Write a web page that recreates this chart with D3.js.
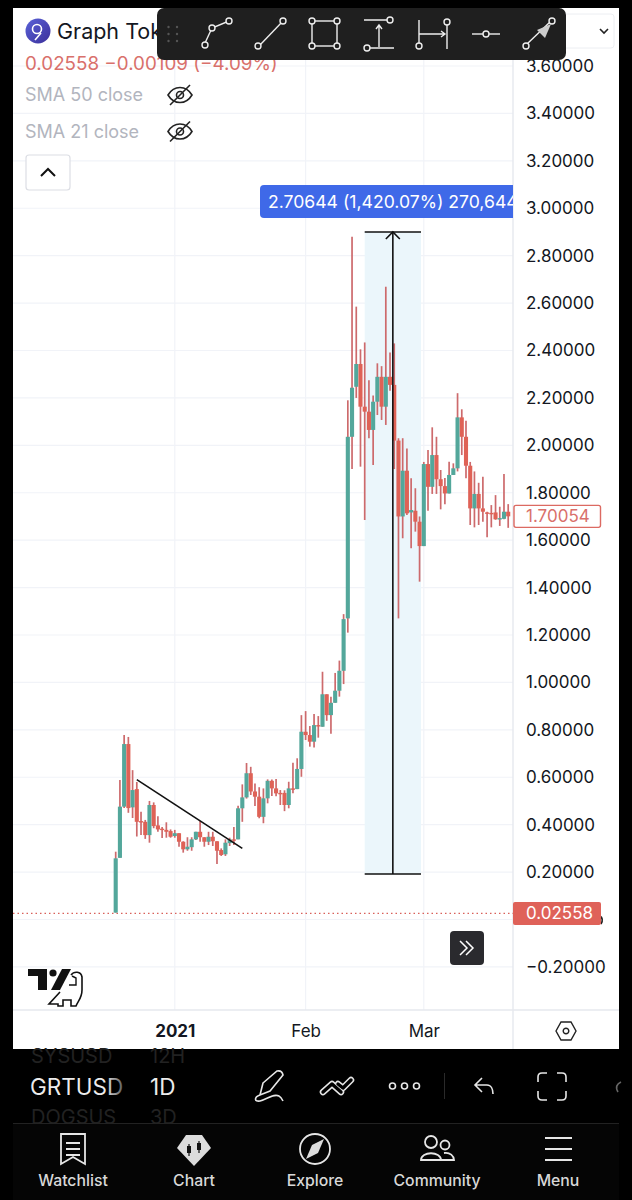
<!DOCTYPE html>
<html>
<head>
<meta charset="utf-8">
<script src="https://cdn.jsdelivr.net/npm/d3@7"></script>
<style>
  html, body { margin: 0; padding: 0; background: #000; }
  svg { display: block; }
  text { font-family: Inter, Roboto, "Liberation Sans", sans-serif; }
</style>
</head>
<body>
<svg id="chart" width="632" height="1200"></svg>
<script>
// GRTUSD daily candles, first one is 18 Dec 2020
const opens = [0.029,0.26,0.476,0.74,0.473,0.55,0.415,0.412,0.356,0.483,0.397,0.383,0.378,0.373,0.352,0.364,0.328,0.296,0.305,0.338,0.37,0.347,0.328,0.349,0.33,0.293,0.275,0.322,0.338,0.338,0.469,0.515,0.617,0.54,0.518,0.433,0.511,0.585,0.553,0.534,0.534,0.483,0.553,0.55,0.635,0.792,0.778,0.75,0.82,0.813,0.95,0.862,0.914,0.965,1.049,1.27,2.036,2.247,2.343,2.163,2.142,2.065,2.184,2.289,2.163,2.289,2.255,2.02,1.70,1.893,1.717,1.724,1.678,1.575,1.921,1.825,1.959,1.857,1.828,1.797,1.875,1.903,2.118,2.036,1.914,1.734,1.795,1.734,1.717,1.715,1.717,1.69,1.69,1.72];
const highs = [0.286,0.588,0.778,0.77,0.63,0.58,0.455,0.42,0.50,0.494,0.436,0.39,0.41,0.38,0.378,0.364,0.33,0.347,0.347,0.37,0.415,0.347,0.37,0.37,0.33,0.30,0.338,0.345,0.39,0.48,0.57,0.66,0.644,0.574,0.558,0.553,0.591,0.591,0.593,0.546,0.545,0.581,0.661,0.68,0.862,0.879,0.816,0.867,0.858,1.045,0.95,0.94,1.04,1.092,1.288,2.19,2.88,2.585,2.405,2.434,2.275,2.21,2.346,2.334,2.669,2.392,2.43,2.03,2.03,1.987,1.861,1.819,1.70,1.93,1.98,2.076,2.036,1.896,1.862,1.931,1.924,2.22,2.152,2.104,1.93,1.89,1.842,1.868,1.72,1.748,1.79,1.741,1.879,1.752];
const lows = [0.029,0.26,0.47,0.45,0.428,0.35,0.356,0.34,0.324,0.385,0.37,0.344,0.345,0.345,0.345,0.307,0.282,0.29,0.29,0.335,0.328,0.307,0.314,0.31,0.234,0.268,0.268,0.31,0.314,0.338,0.412,0.51,0.525,0.479,0.427,0.406,0.49,0.521,0.52,0.483,0.457,0.469,0.532,0.55,0.602,0.757,0.729,0.726,0.767,0.813,0.838,0.783,0.914,0.94,0.993,1.21,1.90,2.2,1.91,1.685,2.03,1.917,2.128,2.107,2.086,2.23,1.9,1.27,1.608,1.706,1.566,1.636,1.425,1.575,1.724,1.795,1.795,1.73,1.752,1.797,1.875,1.89,1.959,1.861,1.664,1.654,1.664,1.678,1.612,1.654,1.686,1.66,1.688,1.652];
const closes = [0.258,0.476,0.74,0.47,0.546,0.412,0.41,0.356,0.483,0.394,0.38,0.378,0.37,0.349,0.364,0.328,0.296,0.307,0.338,0.37,0.347,0.328,0.349,0.33,0.29,0.272,0.324,0.338,0.336,0.469,0.515,0.617,0.54,0.518,0.433,0.511,0.585,0.553,0.532,0.53,0.483,0.553,0.55,0.635,0.792,0.778,0.75,0.82,0.816,0.95,0.862,0.914,0.965,1.049,1.267,2.036,2.243,2.343,2.163,2.142,2.065,2.184,2.289,2.163,2.289,2.255,2.02,1.70,1.893,1.713,1.727,1.678,1.575,1.921,1.825,1.959,1.857,1.828,1.797,1.875,1.903,2.118,2.036,1.914,1.734,1.795,1.734,1.72,1.715,1.712,1.688,1.693,1.72,1.70054];

const priceTicks = [-0.2,0,0.2,0.4,0.6,0.8,1,1.2,1.4,1.6,1.8,2,2.2,2.4,2.6,2.8,3,3.2,3.4,3.6];
const timeTicks = [new Date(2021,0,1), new Date(2021,1,1), new Date(2021,2,1)];
const timeLabels = ["2021", "Feb", "Mar"];
const sideLabels = ["SMA 50 close", "SMA 21 close"];
const navLabels = ["Watchlist", "Chart", "Explore", "Community", "Menu"];

const lastPrice = 0.02558;
const lastClose = 1.70054;
const firstDay = new Date(2020,11,18);
const lastDay = new Date(2021,2,21);
// hand drawn tools on the chart
const trendFrom = [new Date(2020,11,23), 0.59];
const trendTo = [new Date(2021,0,17), 0.30];
const rangeFrom = [new Date(2021,1,15), 0.192];
const rangeTo = [new Date(2021,1,28,8), 2.9];

const upColor = "#53a79b";
const downColor = "#df6257";
const wickColor = "#cd6a6c";
const grid = "#f1f3f8";

const svg = d3.select("#chart");

const plot = { left: 13, right: 513, top: 8, bottom: 1010 };

const x = d3.scaleTime().domain([firstDay, lastDay]).range([115.7, 508.2]);
const y = d3.scaleLinear().domain([0, 3.6]).range([919.5, 66]);

const defs = svg.append("defs");
defs.append("filter").attr("id", "soft").append("feGaussianBlur").attr("stdDeviation", 0.35);
const fade = defs.append("linearGradient").attr("id", "fadeRight").attr("gradientUnits", "userSpaceOnUse")
  .attr("x1", 30).attr("x2", 126).attr("y1", 0).attr("y2", 0);
fade.append("stop").attr("offset", 0.78).attr("stop-color", "#ececec");
fade.append("stop").attr("offset", 1).attr("stop-color", "#444");
const coin = defs.append("linearGradient").attr("id", "coin").attr("x1", 0).attr("x2", 1).attr("y1", 0).attr("y2", 1);
coin.append("stop").attr("offset", 0).attr("stop-color", "#5a62d8");
coin.append("stop").attr("offset", 1).attr("stop-color", "#3b2f9a");
defs.append("clipPath").attr("id", "plotClip")
  .append("rect").attr("x", plot.left).attr("y", plot.top).attr("width", plot.right - plot.left).attr("height", plot.bottom - plot.top);

// panel
svg.append("rect").attr("width", 632).attr("height", 1200).attr("fill", "#000");
svg.append("rect").attr("x", 13).attr("y", 8).attr("width", 606).attr("height", 1041).attr("fill", "#fff");

// grid
const gridG = svg.append("g");
gridG.selectAll(".h").data(priceTicks).join("line")
  .attr("x1", plot.left).attr("x2", plot.right)
  .attr("y1", d => y(d)).attr("y2", d => y(d))
  .attr("stroke", grid).attr("stroke-width", 1.2);
gridG.selectAll(".v").data(timeTicks).join("line")
  .attr("x1", d => x(d)).attr("x2", d => x(d))
  .attr("y1", plot.top).attr("y2", plot.bottom)
  .attr("stroke", grid).attr("stroke-width", 1.2);

// borders of the axes
svg.append("line").attr("x1", 513).attr("x2", 513).attr("y1", 8).attr("y2", 1049).attr("stroke", "#e6e8ee").attr("stroke-width", 1.4);
svg.append("line").attr("x1", 13).attr("x2", 619).attr("y1", 1010).attr("y2", 1010).attr("stroke", "#e6e8ee").attr("stroke-width", 1.4);

// measure range background
svg.append("rect")
  .attr("x", x(rangeFrom[0])).attr("y", y(rangeTo[1]))
  .attr("width", x(rangeTo[0]) - x(rangeFrom[0]))
  .attr("height", y(rangeFrom[1]) - y(rangeTo[1]))
  .attr("fill", "#ebf6fb");

// last price dotted line
svg.append("line")
  .attr("x1", plot.left).attr("x2", plot.right)
  .attr("y1", y(lastPrice)).attr("y2", y(lastPrice))
  .attr("stroke", "#d9605a").attr("stroke-width", 1.3).attr("stroke-dasharray", "1.5 3");

// candles, all wicks are the same reddish colour here
const days = opens.map((d, i) => d3.timeDay.offset(firstDay, i));
const candles = svg.append("g").attr("filter", "url(#soft)");
candles.selectAll("line").data(days).join("line")
  .attr("x1", d => x(d)).attr("x2", d => x(d))
  .attr("y1", (d, i) => y(highs[i])).attr("y2", (d, i) => y(lows[i]))
  .attr("stroke", wickColor)
  .attr("stroke-width", 1.7);
candles.selectAll("rect").data(days).join("rect")
  .attr("x", d => x(d) - 2.05).attr("width", 4.1)
  .attr("y", (d, i) => y(Math.max(opens[i], closes[i])))
  .attr("height", (d, i) => Math.max(1.4, Math.abs(y(opens[i]) - y(closes[i]))))
  .attr("fill", (d, i) => closes[i] >= opens[i] ? upColor : downColor);

// trend line
svg.append("line")
  .attr("x1", x(trendFrom[0])).attr("y1", y(trendFrom[1]))
  .attr("x2", x(trendTo[0])).attr("y2", y(trendTo[1]))
  .attr("stroke", "#111").attr("stroke-width", 1.6);

// measure tool
const rx0 = x(rangeFrom[0]), rx1 = x(rangeTo[0]), ryLow = y(rangeFrom[1]), ryTop = y(rangeTo[1]);
const rxMid = (rx0 + rx1) / 2;
const measure = svg.append("g").attr("stroke", "#111").attr("stroke-width", 1.6).attr("fill", "none");
measure.append("line").attr("x1", rx0).attr("x2", rx1).attr("y1", ryTop).attr("y2", ryTop);
measure.append("line").attr("x1", rx0).attr("x2", rx1).attr("y1", ryLow).attr("y2", ryLow);
measure.append("line").attr("x1", rxMid).attr("x2", rxMid).attr("y1", ryTop).attr("y2", ryLow);
measure.append("path").attr("d", `M${rxMid - 7},${ryTop + 7}L${rxMid},${ryTop}L${rxMid + 7},${ryTop + 7}`);

// measure label, cut off by the price scale
const tag = svg.append("g").attr("clip-path", "url(#plotClip)");
tag.append("rect").attr("x", 260).attr("y", 185).attr("width", 270).attr("height", 33).attr("rx", 4).attr("fill", "#3f69e8");
tag.append("text").attr("x", 268).attr("y", 208).attr("fill", "#fff").attr("font-size", 17.6).text("2.70644 (1,420.07%) 270,644");

// price axis, the 0 label is hidden by the last price tag
const yAxis = d3.axisRight(y).tickValues(priceTicks.filter(d => d !== 0)).tickFormat(d3.format(".5f")).tickSize(0).tickPadding(13);
const yG = svg.append("g").attr("transform", `translate(${plot.right},0)`).call(yAxis);
yG.select(".domain").remove();
yG.selectAll("text").attr("font-size", 17).attr("fill", "#131722").attr("font-family", "Inter, Roboto, sans-serif");

// time axis
const xAxis = d3.axisBottom(x).tickValues(timeTicks).tickFormat((d, i) => timeLabels[i]).tickSize(0).tickPadding(15);
const xG = svg.append("g").attr("transform", `translate(0,${plot.bottom})`).call(xAxis);
xG.select(".domain").remove();
xG.selectAll("text").attr("font-size", 17).attr("fill", "#131722").attr("font-family", "Inter, Roboto, sans-serif")
  .attr("font-weight", (d, i) => i === 0 ? 700 : 400);

// last close box + last price tag
svg.append("rect").attr("x", 514).attr("y", y(lastClose) - 11).attr("width", 86.5).attr("height", 22).attr("rx", 2).attr("fill", "#fff").attr("stroke", "#dc6a62").attr("stroke-width", 1.4);
svg.append("text").attr("x", 526).attr("y", y(lastClose) + 6).attr("font-size", 17).attr("fill", "#d9706b").text(d3.format(".5f")(lastClose));
svg.append("path").attr("d", "M600,916Q604,919 601,924").attr("fill", "none").attr("stroke", "#222").attr("stroke-width", 1.6);
svg.append("rect").attr("x", 513).attr("y", y(lastPrice) - 11.5).attr("width", 88).attr("height", 23).attr("rx", 2).attr("fill", "#df6259");
svg.append("text").attr("x", 526).attr("y", y(lastPrice) + 6).attr("font-size", 17).attr("fill", "#fff").text(d3.format(".5f")(lastPrice));

// header legend
const logo = svg.append("g");
logo.append("circle").attr("cx", 38).attr("cy", 31).attr("r", 12.5).attr("fill", "url(#coin)");
logo.append("circle").attr("cx", 37).attr("cy", 29).attr("r", 4.5).attr("fill", "none").attr("stroke", "#fff").attr("stroke-width", 1.6);
logo.append("path").attr("d", "M41,33L35,40").attr("stroke", "#fff").attr("stroke-width", 1.6);
svg.append("text").attr("x", 57).attr("y", 38.5).attr("font-size", 21.5).attr("fill", "#131722").text("Graph Token");
svg.append("text").attr("x", 25).attr("y", 70).attr("font-size", 18.8).attr("fill", "#d9706b").text("0.02558 −0.00109 (−4.09%)");

svg.selectAll(".sma").data(sideLabels).join("text").attr("class", "sma")
  .attr("x", 25).attr("y", (d, i) => 101 + i * 36.5)
  .attr("font-size", 18).attr("fill", "#b2b5be").text(d => d);
sideLabels.forEach((d, i) => {
  const eye = svg.append("g").attr("transform", `translate(180,${95 + i * 36.5})`).attr("fill", "none").attr("stroke", "#222").attr("stroke-width", 1.6);
  eye.append("path").attr("d", "M-12,0C-6,-10 6,-10 12,0C6,10 -6,10 -12,0Z");
  eye.append("circle").attr("r", 3.5);
  eye.append("path").attr("d", "M-10,10L10,-10");
});
svg.append("rect").attr("x", 26).attr("y", 155).attr("width", 44).attr("height", 35).attr("rx", 3).attr("fill", "#fff").attr("stroke", "#dcdee4").attr("stroke-width", 1.2);
svg.append("path").attr("d", "M41,176L48,169L55,176").attr("fill", "none").attr("stroke", "#111").attr("stroke-width", 2);

// dropdown corner behind the toolbar
svg.append("rect").attr("x", 540).attr("y", 14).attr("width", 74).attr("height", 34).attr("rx", 3).attr("fill", "#fff").attr("stroke", "#eceef2");
svg.append("path").attr("d", "M600,29L604,33L608,29").attr("fill", "none").attr("stroke", "#222").attr("stroke-width", 1.6);

// drawing toolbar
svg.append("rect").attr("x", 157).attr("y", 8).attr("width", 409).attr("height", 52).attr("rx", 7).attr("fill", "#1f1f1f");
const dotsG = svg.append("g").attr("fill", "#555");
[168.5, 177].forEach(dx => [27, 34, 41].forEach(dy => dotsG.append("circle").attr("cx", dx).attr("cy", dy).attr("r", 1.2)));
const tools = svg.append("g").attr("fill", "none").attr("stroke", "#eee").attr("stroke-width", 1.4);
const knob = (g, cx, cy) => g.append("circle").attr("cx", cx).attr("cy", cy).attr("r", 3).attr("fill", "#1f1f1f");
// path tool
tools.append("path").attr("d", "M205,43L212,28L229,21");
[[205,45],[212,28],[229,21]].forEach(p => knob(tools, p[0], p[1]));
// line
tools.append("path").attr("d", "M260,45L283,21");
[[258,46],[283,21]].forEach(p => knob(tools, p[0], p[1]));
// rectangle
tools.append("rect").attr("x", 312).attr("y", 21).attr("width", 25).attr("height", 25);
[[312,21],[337,21],[312,46],[337,46]].forEach(p => knob(tools, p[0], p[1]));
// price range
tools.append("path").attr("d", "M364,20H390M369,48H394M379,47V26M376,29L379,25L382,29");
[[390,20],[367,48]].forEach(p => knob(tools, p[0], p[1]));
// date range
tools.append("path").attr("d", "M419,20V48M447,24V49M419,34H445M441,31L445,34L441,37");
[[419,46],[447,22]].forEach(p => knob(tools, p[0], p[1]));
// horizontal
tools.append("path").attr("d", "M472,34H500");
knob(tools, 486, 34);
// arrow
tools.append("path").attr("d", "M527,44L550,22");
knob(tools, 526, 46);
knob(tools, 552, 21);
svg.append("path").attr("d", "M551,24L537,30L545,38Z").attr("fill", "#ccc");

// collapse button
svg.append("rect").attr("x", 450).attr("y", 931).attr("width", 34).attr("height", 34).attr("rx", 4).attr("fill", "#2a2a2e");
svg.append("path").attr("d", "M460,941L467,948L460,955M466,941L473,948L466,955").attr("fill", "none").attr("stroke", "#fff").attr("stroke-width", 1.5);

// logo with the dino
const tv = svg.append("g");
tv.append("path").attr("d", "M28,969H47V990H38V976H28Z").attr("fill", "#111");
tv.append("circle").attr("cx", 53).attr("cy", 973).attr("r", 3.6).attr("fill", "#111");
tv.append("path").attr("d", "M62,969H71L60,990H51Z").attr("fill", "#111");
tv.append("path").attr("d", "M71,975C74,971 81,971 82,977V990C82,998 78,1001 76,1006H71V1000H63V1006H58V1004H49L60,992").attr("fill", "none").attr("stroke", "#111").attr("stroke-width", 1.6);
tv.append("path").attr("d", "M69,985H76V978L72,976").attr("fill", "none").attr("stroke", "#111").attr("stroke-width", 1.4);

// hexagon settings
const hex = svg.append("g").attr("transform", "translate(566,1031)").attr("fill", "none").attr("stroke", "#222").attr("stroke-width", 1.4);
hex.append("path").attr("d", "M-10,0L-5,-9H5L10,0L5,9H-5Z");
hex.append("circle").attr("r", 2.8);

// lower black area
const lower = svg.append("g");
lower.append("text").attr("x", 31).attr("y", 1063).attr("font-size", 20).attr("fill", "#222").text("SYSUSD");
lower.append("text").attr("x", 150).attr("y", 1063).attr("font-size", 20).attr("fill", "#222").text("12H");
lower.append("text").attr("x", 30).attr("y", 1095).attr("font-size", 22.5).attr("fill", "url(#fadeRight)").text("GRTUSD");
lower.append("text").attr("x", 150).attr("y", 1095).attr("font-size", 22.5).attr("fill", "#ececec").text("1D");
lower.append("text").attr("x", 31).attr("y", 1124).attr("font-size", 20).attr("fill", "#222").text("DOGSUS");
lower.append("text").attr("x", 150).attr("y", 1124).attr("font-size", 20).attr("fill", "#222").text("3D");
svg.append("rect").attr("x", 13).attr("y", 1124).attr("width", 606).attr("height", 76).attr("fill", "#050505");
svg.append("line").attr("x1", 13).attr("x2", 619).attr("y1", 1123.5).attr("y2", 1123.5).attr("stroke", "#222");

// action icons
const act = svg.append("g").attr("fill", "none").attr("stroke", "#e6e6e6").attr("stroke-width", 1.6);
act.append("path").attr("d", "M263,1083L277,1071Q282,1070 283,1075L270,1091L260,1095ZM260,1095C254,1097 254,1102 260,1101C268,1099 274,1093 279,1096C281,1097 282,1099 283,1101");
// the zigzag icon is a ribbon: white stroke with a black one on top
[["#e6e6e6", 6.5], ["#000", 3.4]].forEach(s => {
  svg.append("path").attr("d", "M323,1092L332,1084L341,1092M338,1084L343,1088L351,1080")
    .attr("fill", "none").attr("stroke", s[0]).attr("stroke-width", s[1]).attr("stroke-linecap", "round").attr("stroke-linejoin", "round");
});
[392.5, 404.5, 416.5].forEach(dx => act.append("circle").attr("cx", dx).attr("cy", 1086).attr("r", 3));
svg.append("line").attr("x1", 444.5).attr("x2", 444.5).attr("y1", 1073).attr("y2", 1099).attr("stroke", "#2a2a2a");
act.append("path").attr("d", "M482,1078L475,1085L482,1092M475,1085H487C491,1085 493,1089 493,1094");
act.append("path").attr("d", "M547,1073H542C539,1073 538,1075 538,1077V1082M557,1073H562C565,1073 566,1075 566,1077V1082M547,1100H542C539,1100 538,1098 538,1096V1091M557,1100H562C565,1100 566,1098 566,1096V1091");
act.append("path").attr("d", "M618,1092C615,1087 617,1084 621,1082").attr("stroke", "#666");

// bottom navigation
const navX = [73, 194, 315, 437, 558];
svg.selectAll(".nav").data(navLabels).join("text").attr("class", "nav")
  .attr("x", (d, i) => navX[i]).attr("y", 1186).attr("text-anchor", "middle")
  .attr("font-size", 15.8).attr("font-weight", 500).attr("fill", "#d8d8d8").text(d => d);
const nav = svg.append("g").attr("fill", "none").attr("stroke", "#e6e6e6").attr("stroke-width", 1.8);
nav.append("path").attr("d", "M61,1134H85V1164L73,1157L61,1164ZM66,1143H80M66,1149H80M66,1155H80");
svg.append("path").attr("d", "M186,1135H202L211,1148L194,1166L177,1148Z").attr("fill", "#dcdcdc");
svg.append("path").attr("d", "M189,1144V1156M199,1141V1153").attr("stroke", "#111").attr("stroke-width", 1.2);
svg.append("rect").attr("x", 187).attr("y", 1146).attr("width", 4).attr("height", 7).attr("fill", "#111");
svg.append("rect").attr("x", 197).attr("y", 1143).attr("width", 4).attr("height", 7).attr("fill", "#111");
nav.append("circle").attr("cx", 315).attr("cy", 1149).attr("r", 15);
svg.append("path").attr("d", "M324,1139L318,1153L306,1159L312,1145Z").attr("fill", "#dcdcdc");
nav.append("circle").attr("cx", 431).attr("cy", 1142).attr("r", 6);
nav.append("circle").attr("cx", 445).attr("cy", 1145).attr("r", 4.5);
nav.append("path").attr("d", "M421,1160C421,1151 441,1151 441,1160ZM444,1153C450,1152 454,1156 454,1160H441");
nav.append("path").attr("d", "M545,1138H572M545,1149H572M545,1160H572");
</script>
</body>
</html>
